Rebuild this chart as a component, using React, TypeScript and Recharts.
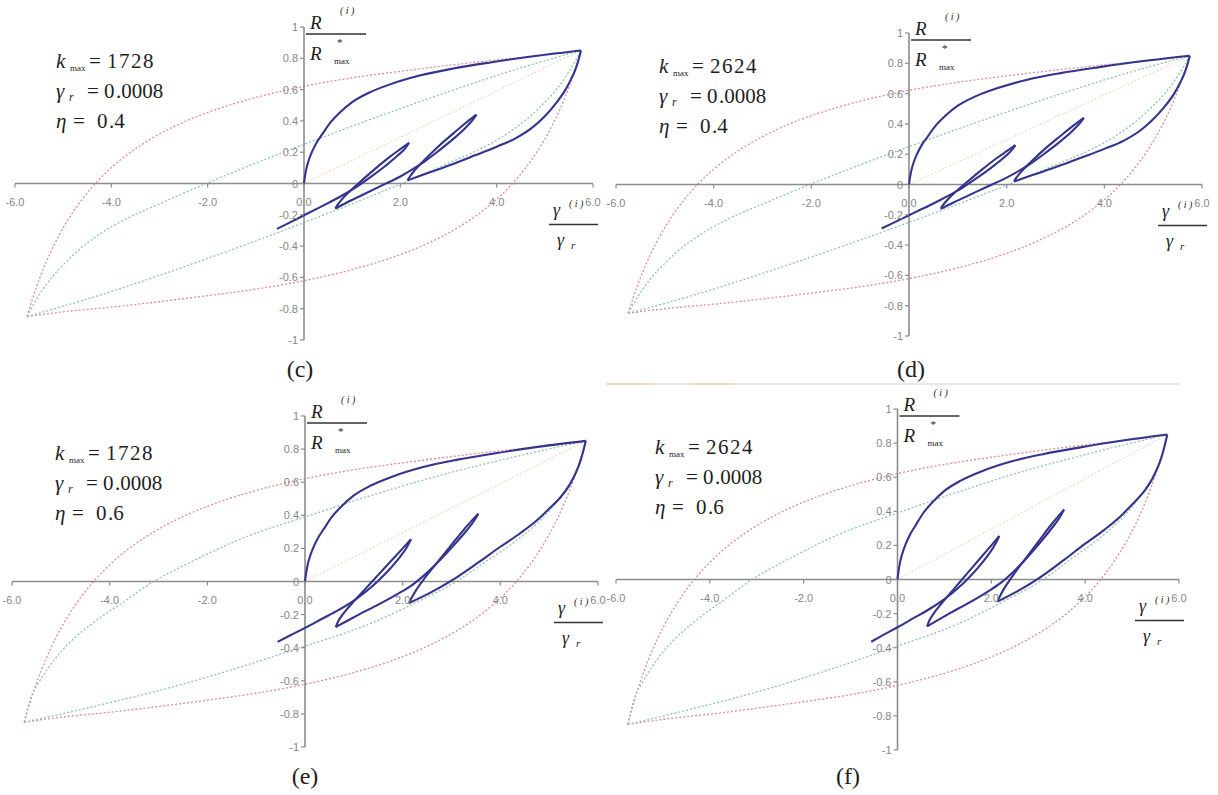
import React from 'react';
import { LineChart, Line, XAxis, YAxis, ReferenceLine } from 'recharts';

type Pt = { x: number; y: number };
const zip = (xs: number[], ys: number[]): Pt[] => xs.map((x, i) => ({ x, y: ys[i] }));

const xTicks = [-6, -4, -2, 0, 2, 4, 6];
const yTicks = [1, 0.8, 0.6, 0.4, 0.2, 0, -0.2, -0.4, -0.6, -0.8, -1];

// outer envelope (red dotted)
const redUpperX = [-5.75, -5.65, -5.5, -5.3, -5.1, -4.85, -4.6, -4.3, -3.8, -3.2, -2.5, -1.8, -1.0, 0, 1, 2, 3, 4, 5, 5.75];
const redUpperY = [-0.85, -0.749, -0.615, -0.465, -0.339, -0.208, -0.099, 0.01, 0.153, 0.281, 0.392, 0.476, 0.55, 0.621, 0.675, 0.717, 0.755, 0.79, 0.82, 0.85];
const redLowerX = [-5.75, -5, -4, -3, -2, -1, 0, 1, 1.8, 2.5, 3.2, 3.8, 4.3, 4.6, 4.85, 5.1, 5.3, 5.5, 5.65, 5.75];
const redLowerY = [-0.85, -0.82, -0.79, -0.755, -0.717, -0.675, -0.621, -0.55, -0.476, -0.392, -0.281, -0.153, -0.01, 0.099, 0.208, 0.339, 0.465, 0.615, 0.749, 0.85];

// secant from origin to the peak
const secantX = [0, 5.75];
const secantY = [0, 0.85];

// green dotted branches, eta = 0.4
const green4UpperX = [-5.75, -5.6, -5.45, -5.25, -5.0, -4.75, -4.25, -3.75, -3.0, -2.03, -1.0, 0, 1.25, 2.75, 4.25, 5.75];
const green4UpperY = [-0.85, -0.765, -0.69, -0.605, -0.52, -0.445, -0.325, -0.235, -0.13, 0, 0.13, 0.25, 0.395, 0.56, 0.715, 0.85];
const green4LowerX = [-5.75, -4.25, -2.75, -1.25, 0, 1.0, 2.03, 3.0, 3.75, 4.25, 4.75, 5.0, 5.25, 5.45, 5.6, 5.75];
const green4LowerY = [-0.85, -0.715, -0.56, -0.395, -0.25, -0.13, 0, 0.13, 0.235, 0.325, 0.445, 0.52, 0.605, 0.69, 0.765, 0.85];

// green dotted branches, eta = 0.6
const green6UpperX = [-5.75, -5.6, -5.45, -5.25, -5.0, -4.75, -4.25, -3.75, -3.1, -2.25, -1.25, 0, 1.25, 2.75, 4.25, 5.75];
const green6UpperY = [-0.85, -0.69, -0.61, -0.52, -0.425, -0.35, -0.23, -0.13, 0, 0.13, 0.265, 0.39, 0.51, 0.64, 0.75, 0.85];
const green6LowerX = [-5.75, -4.25, -2.75, -1.25, 0, 1.25, 2.25, 3.1, 3.75, 4.25, 4.75, 5.0, 5.25, 5.45, 5.6, 5.75];
const green6LowerY = [-0.85, -0.75, -0.64, -0.51, -0.39, -0.265, -0.13, 0, 0.13, 0.23, 0.35, 0.425, 0.52, 0.61, 0.69, 0.85];

// first loading from rest to the peak (same for both eta)
const loadX = [0, 0.02, 0.05, 0.1, 0.17, 0.26, 0.38, 0.55, 0.75, 1.0, 1.35, 1.8, 2.4, 3.1, 3.9, 4.8, 5.75];
const loadY = [0, 0.045, 0.095, 0.15, 0.205, 0.26, 0.315, 0.39, 0.455, 0.52, 0.58, 0.635, 0.69, 0.735, 0.775, 0.815, 0.85];

// response path, eta = 0.4
const a4UnloadX = [5.75, 5.7, 5.63, 5.55, 5.43, 5.25, 5.0, 4.75, 4.4, 4.0, 3.55, 3.05, 2.6, 2.15];
const a4UnloadY = [0.85, 0.79, 0.725, 0.67, 0.6, 0.52, 0.43, 0.36, 0.29, 0.235, 0.18, 0.12, 0.07, 0.02];
const a4Reload1X = [2.15, 2.2, 2.3, 2.5, 2.8, 3.1, 3.35, 3.58];
const a4Reload1Y = [0.02, 0.045, 0.085, 0.15, 0.24, 0.32, 0.385, 0.44];
const a4Unload1X = [3.58, 3.5, 3.35, 3.1, 2.8, 2.5, 2.25, 2.0, 1.6, 1.2, 0.9, 0.65];
const a4Unload1Y = [0.44, 0.405, 0.355, 0.285, 0.21, 0.14, 0.09, 0.045, -0.015, -0.075, -0.12, -0.16];
const a4Reload2X = [0.65, 0.7, 0.8, 0.95, 1.2, 1.5, 1.8, 2.0, 2.18];
const a4Reload2Y = [-0.16, -0.135, -0.097, -0.05, 0.02, 0.1, 0.175, 0.22, 0.26];
const a4Unload2X = [2.18, 2.1, 1.95, 1.7, 1.4, 1.1, 0.8, 0.5, 0.2, 0, -0.3, -0.56];
const a4Unload2Y = [0.26, 0.225, 0.18, 0.115, 0.045, -0.02, -0.075, -0.125, -0.172, -0.203, -0.25, -0.29];

// response path, eta = 0.6
const a6UnloadX = [5.75, 5.7, 5.63, 5.55, 5.43, 5.25, 5.0, 4.75, 4.4, 4.0, 3.55, 3.0, 2.55, 2.13];
const a6UnloadY = [0.85, 0.79, 0.72, 0.66, 0.59, 0.515, 0.44, 0.37, 0.29, 0.21, 0.115, 0.005, -0.07, -0.13];
const a6Reload1X = [2.13, 2.18, 2.28, 2.45, 2.75, 3.05, 3.3, 3.55];
const a6Reload1Y = [-0.13, -0.1, -0.05, 0.02, 0.13, 0.24, 0.33, 0.41];
const a6Unload1X = [3.55, 3.47, 3.3, 3.05, 2.75, 2.45, 2.2, 1.9, 1.5, 1.1, 0.85, 0.63];
const a6Unload1Y = [0.41, 0.37, 0.305, 0.22, 0.125, 0.04, -0.02, -0.075, -0.14, -0.2, -0.24, -0.275];
const a6Reload2X = [0.63, 0.68, 0.77, 0.88, 1.0, 1.25, 1.5, 1.75, 2.0, 2.17];
const a6Reload2Y = [-0.275, -0.24, -0.2, -0.16, -0.12, -0.04, 0.04, 0.12, 0.2, 0.255];
const a6Unload2X = [2.17, 2.1, 1.95, 1.75, 1.5, 1.25, 1.0, 0.7, 0.35, 0, -0.3, -0.56];
const a6Unload2Y = [0.255, 0.215, 0.15, 0.08, 0.005, -0.06, -0.115, -0.17, -0.225, -0.28, -0.325, -0.365];

const BLUE = '#34348c';
const RED = '#e3899a';
const GREEN = '#8cc6ab';
const PALE = '#f2d8c2';
const AXIS = '#8c8c8c';
const TICK_FONT = "'Liberation Sans Narrow', 'Liberation Sans', Arial, sans-serif";
const SERIF = "'Liberation Serif', 'DejaVu Serif', serif";

const envelope = [zip(redUpperX, redUpperY), zip(redLowerX, redLowerY)];
const green4 = [zip(green4UpperX, green4UpperY), zip(green4LowerX, green4LowerY)];
const green6 = [zip(green6UpperX, green6UpperY), zip(green6LowerX, green6LowerY)];
const load = zip(loadX, loadY);
const path4 = [
  load, zip(a4UnloadX, a4UnloadY),
  zip(a4Reload1X, a4Reload1Y), zip(a4Unload1X, a4Unload1Y),
  zip(a4Reload2X, a4Reload2Y), zip(a4Unload2X, a4Unload2Y),
];
const path6 = [
  load, zip(a6UnloadX, a6UnloadY),
  zip(a6Reload1X, a6Reload1Y), zip(a6Unload1X, a6Unload1Y),
  zip(a6Reload2X, a6Reload2Y), zip(a6Unload2X, a6Unload2Y),
];
const secant = zip(secantX, secantY);

type PanelDef = {
  left: number; right: number; top: number; bottom: number;
  k: string; eta: string; tx: number; ty: number;
  label: string; lx: number; ly: number;
  green: Pt[][]; path: Pt[][];
};

const panels: PanelDef[] = [
  { left: 15, right: 593, top: 27, bottom: 340, k: '1728', eta: '4', tx: 56, ty: 68, label: '(c)', lx: 300, ly: 377, green: green4, path: path4 },
  { left: 616, right: 1202, top: 33, bottom: 336, k: '2624', eta: '4', tx: 659, ty: 73, label: '(d)', lx: 911, ly: 377, green: green4, path: path4 },
  { left: 12, right: 598, top: 416, bottom: 747, k: '1728', eta: '6', tx: 55, ty: 460, label: '(e)', lx: 305, ly: 784, green: green6, path: path6 },
  { left: 616, right: 1179, top: 409, bottom: 750, k: '2624', eta: '6', tx: 655, ty: 454, label: '(f)', lx: 848, ly: 784, green: green6, path: path6 },
];

const M = 12;
const AX = 16;

function Panel({ p }: { p: PanelDef }) {
  const plotW = p.right - p.left;
  const plotH = p.bottom - p.top;
  const cx = M + AX + plotW / 2;
  const cy = M + plotH / 2;

  const xTick = (t: any) => (
    <g key={`x${t.payload.value}`}>
      <line x1={t.x} x2={t.x} y1={cy} y2={cy + 4} stroke={AXIS} strokeWidth={1.2} />
      <text x={t.x} y={cy + 22} textAnchor="middle" fontSize={11} fontFamily={TICK_FONT} fill="#868686">
        {Number(t.payload.value).toFixed(1)}
      </text>
    </g>
  );
  const yTick = (t: any) => (
    <g key={`y${t.payload.value}`}>
      <line x1={cx - 4} x2={cx} y1={t.y} y2={t.y} stroke={AXIS} strokeWidth={1.2} />
      <text x={cx - 6} y={t.y + 4} textAnchor="end" fontSize={11} fontFamily={TICK_FONT} fill="#868686">
        {String(t.payload.value)}
      </text>
    </g>
  );

  return (
    <div style={{ position: 'absolute', left: p.left - M - AX, top: p.top - M }}>
      <LineChart width={plotW + 2 * M + AX} height={plotH + 2 * M + AX} margin={{ top: M, right: M, bottom: M, left: M }}>
        <XAxis type="number" dataKey="x" domain={[-6, 6]} ticks={xTicks} interval={0} height={AX}
          axisLine={false} tickLine={false} tickSize={0} tick={xTick} allowDataOverflow />
        <YAxis type="number" dataKey="y" domain={[-1, 1]} ticks={yTicks} interval={0} width={AX}
          axisLine={false} tickLine={false} tickSize={0} tick={yTick} allowDataOverflow />
        <Line data={secant} dataKey="y" type="linear" stroke={PALE} strokeWidth={1.2} strokeDasharray="2 2" dot={false} isAnimationActive={false} />
        {envelope.map((d, i) => (
          <Line key={`r${i}`} data={d} dataKey="y" type="monotone" stroke={RED} strokeWidth={1.3} strokeDasharray="2 2" dot={false} isAnimationActive={false} />
        ))}
        {p.green.map((d, i) => (
          <Line key={`g${i}`} data={d} dataKey="y" type="monotone" stroke={GREEN} strokeWidth={1.3} strokeDasharray="2 2" dot={false} isAnimationActive={false} />
        ))}
        <ReferenceLine y={0} stroke={AXIS} strokeWidth={1.6} />
        <ReferenceLine x={0} stroke={AXIS} strokeWidth={1.6} />
        {p.path.map((d, i) => (
          <Line key={`b${i}`} data={d} dataKey="y" type="monotone" stroke={BLUE} strokeWidth={2.1} dot={false} isAnimationActive={false} />
        ))}
      </LineChart>
    </div>
  );
}

// serif text piece
function T({ x, y, size, italic, children, anchor, spacing }: any) {
  return (
    <text x={x} y={y} fontSize={size} fontFamily={SERIF} fontStyle={italic ? 'italic' : 'normal'}
      textAnchor={anchor || 'start'} letterSpacing={spacing || 0} fill="#1e1e1e">
      {children}
    </text>
  );
}

function Notes({ p }: { p: PanelDef }) {
  const x0 = (p.left + p.right) / 2;
  const y0 = (p.top + p.bottom) / 2;
  const x6 = p.right;
  const y1 = p.top;
  const t = p.tx;
  const b = p.ty;
  return (
    <g>
      {/* model parameters */}
      <T x={t} y={b} size={21} italic>k</T>
      <T x={t + 14} y={b + 3} size={9}>max</T>
      <T x={t + 33} y={b} size={21}>=</T>
      <T x={t + 51} y={b} size={21} spacing={1.5}>{p.k}</T>
      <T x={t} y={b + 30} size={21} italic>γ</T>
      <T x={t + 13} y={b + 33} size={12} italic>r</T>
      <T x={t + 31} y={b + 30} size={21}>=</T>
      <T x={t + 48} y={b + 30} size={21}>0</T>
      <T x={t + 60} y={b + 30} size={21}>.0008</T>
      <T x={t} y={b + 60} size={21} italic>η</T>
      <T x={t + 17} y={b + 60} size={21}>=</T>
      <T x={t + 41} y={b + 60} size={21}>0</T>
      <T x={t + 53} y={b + 60} size={21}>.{p.eta}</T>

      {/* vertical axis title */}
      <T x={x0 + 6} y={y1 + 2} size={19} italic>R</T>
      <T x={x0 + 36} y={y1 - 13} size={10} italic>( i )</T>
      <line x1={x0 + 2} x2={x0 + 62} y1={y1 + 7} y2={y1 + 7} stroke="#333" strokeWidth={1.3} />
      <T x={x0 + 6} y={y1 + 33} size={19} italic>R</T>
      <T x={x0 + 33} y={y1 + 19} size={11}>*</T>
      <T x={x0 + 30} y={y1 + 37} size={9}>max</T>

      {/* horizontal axis title */}
      <T x={x6 - 40} y={y0 + 32} size={18} italic>γ</T>
      <T x={x6 - 24} y={y0 + 23} size={10} italic>( i )</T>
      <line x1={x6 - 44} x2={x6 + 5} y1={y0 + 41} y2={y0 + 41} stroke="#333" strokeWidth={1.3} />
      <T x={x6 - 36} y={y0 + 62} size={18} italic>γ</T>
      <T x={x6 - 22} y={y0 + 65} size={11} italic>r</T>

      <T x={p.lx} y={p.ly} size={24} anchor="middle">{p.label}</T>
    </g>
  );
}

export default function App() {
  return (
    <div style={{ position: 'absolute', left: 0, top: 0, width: 1218, height: 795, background: '#fff', overflow: 'hidden' }}>
      {panels.map((p) => (
        <Panel key={p.label} p={p} />
      ))}
      <svg width={1218} height={795} style={{ position: 'absolute', left: 0, top: 0, pointerEvents: 'none' }}>
        {/* divider under (d) */}
        <line x1={606} x2={1180} y1={384} y2={384} stroke="#d4d4d4" strokeWidth={1.2} />
        <line x1={606} x2={650} y1={384} y2={384} stroke="#f3c6a0" strokeWidth={1.2} />
        <line x1={690} x2={735} y1={384} y2={384} stroke="#f3c6a0" strokeWidth={1.2} />
        <line x1={735} x2={800} y1={384} y2={384} stroke="#dfeadf" strokeWidth={1.2} />
        {panels.map((p) => (
          <Notes key={p.label} p={p} />
        ))}
      </svg>
    </div>
  );
}
